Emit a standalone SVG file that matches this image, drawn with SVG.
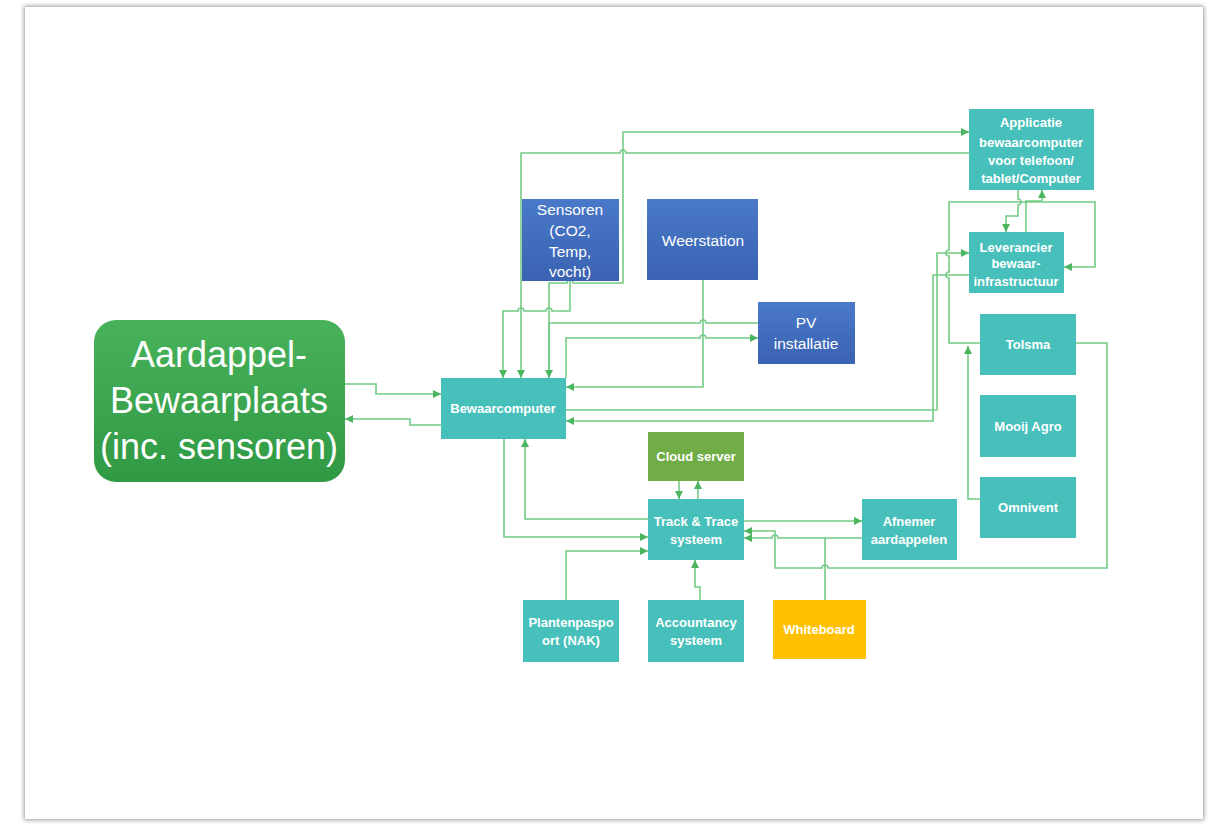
<svg xmlns="http://www.w3.org/2000/svg" width="1216" height="824" viewBox="0 0 1216 824">
<defs>
<style>
.tl{fill:#47bfbb}
.bl{fill:url(#gb)}
.t{font-family:"Liberation Sans",Arial,sans-serif;fill:#fff;text-anchor:middle;font-weight:bold;font-size:13px}
.tb{font-family:"Liberation Sans",Arial,sans-serif;fill:#fff;text-anchor:middle;font-size:15.5px}
.c{fill:none;stroke:#74cb86;stroke-width:1.6}
</style>
<linearGradient id="gb" x1="0" y1="0" x2="0" y2="1"><stop offset="0" stop-color="#4a79c9"/><stop offset="1" stop-color="#3a62b2"/></linearGradient>
<linearGradient id="gg" x1="0" y1="0" x2="0" y2="1"><stop offset="0" stop-color="#48b25b"/><stop offset="1" stop-color="#2f9944"/></linearGradient>
<marker id="a" viewBox="0 0 8 8" refX="8" refY="4" markerWidth="8" markerHeight="8" markerUnits="userSpaceOnUse" orient="auto"><path d="M0,0L8,4L0,8z" fill="#4cb560"/></marker>
<filter id="sh" x="-5%" y="-5%" width="110%" height="110%"><feGaussianBlur stdDeviation="2"/></filter>
</defs>
<rect width="1216" height="824" fill="#fff"/>
<rect x="24" y="6" width="1180" height="814" fill="#9a9a9a" filter="url(#sh)"/>
<rect x="25" y="7" width="1178" height="812" fill="#fff"/>

<g id="connectors" marker-end="url(#a)">
<path class="c" d="M344,384H376V394H441"/>
<path class="c" d="M441,425H410V419H345"/>
<path class="c" d="M570,281V311H552a3,3 0 0 0 -6,0H524a3,3 0 0 0 -6,0H503V378"/>
<path class="c" d="M969,153H626a3,3 0 0 0 -6,0H521V378"/>
<path class="c" d="M549,378V283H567a3,3 0 0 1 6,0H623V132H969"/>
<path class="c" d="M758,323H706a3,3 0 0 0 -6,0H549V378"/>
<path class="c" d="M566,378V338H700a3,3 0 0 1 6,0H758"/>
<path class="c" d="M703,280V387H566"/>
<path class="c" d="M566,410H937V253H969"/>
<path class="c" d="M969,275H933V421H566"/>
<path class="c" d="M980,343H949V278a3,3 0 0 1 0,-6V256a3,3 0 0 1 0,-6V202H1095V267H1064"/>
<path class="c" d="M1026,232V201H1042V190"/>
<path class="c" d="M1018,190V199a3,3 0 0 1 0,6V216H1006V232"/>
<path class="c" d="M980,499H968V346"/>
<path class="c" d="M1076,343H1107V568H828a3,3 0 0 0 -6,0H775V531H744"/>
<path class="c" d="M744,521H862"/>
<path class="c" d="M862,538H778a3,3 0 0 0 -6,0H744"/>
<path class="c" d="M825,600V538" marker-end="none"/>
<path class="c" d="M679,481V499"/>
<path class="c" d="M698,499V481"/>
<path class="c" d="M648,519H525V439"/>
<path class="c" d="M504,439V537H648"/>
<path class="c" d="M566,600V551H648"/>
<path class="c" d="M700,600V587H695V560"/>
</g>

<g id="aardappel">
<rect x="94" y="320" width="251" height="162" rx="22" fill="url(#gg)"/>
<text font-family="'Liberation Sans',Arial,sans-serif" font-size="36" fill="#fff" text-anchor="middle"><tspan x="219" y="367">Aardappel-</tspan><tspan x="219" y="413">Bewaarplaats</tspan><tspan x="219" y="459">(inc. sensoren)</tspan></text>
</g>
<g id="bewaarcomputer"><rect class="tl" x="441" y="378" width="125" height="61"/><text class="t" x="503" y="413">Bewaarcomputer</text></g>
<g id="sensoren"><rect class="bl" x="522" y="199" width="97" height="82"/><text class="tb"><tspan x="570" y="215">Sensoren</tspan><tspan x="570" y="236">(CO2,</tspan><tspan x="570" y="257">Temp,</tspan><tspan x="570" y="277">vocht)</tspan></text></g>
<g id="weerstation"><rect class="bl" x="647" y="199" width="111" height="81"/><text class="tb" x="703" y="246">Weerstation</text></g>
<g id="pv"><rect class="bl" x="758" y="302" width="97" height="62"/><text class="tb"><tspan x="806" y="328">PV</tspan><tspan x="806" y="349">installatie</tspan></text></g>
<g id="applicatie"><rect class="tl" x="969" y="109" width="125" height="81"/><text class="t" font-size="12.5"><tspan x="1031" y="127">Applicatie</tspan><tspan x="1031" y="147">bewaarcomputer</tspan><tspan x="1031" y="165">voor telefoon/</tspan><tspan x="1031" y="183">tablet/Computer</tspan></text></g>
<g id="leverancier"><rect class="tl" x="969" y="232" width="95" height="61"/><text class="t"><tspan x="1016" y="252">Leverancier</tspan><tspan x="1016" y="268">bewaar-</tspan><tspan x="1016" y="286">infrastructuur</tspan></text></g>
<g id="tolsma"><rect class="tl" x="980" y="314" width="96" height="61"/><text class="t" x="1028" y="349">Tolsma</text></g>
<g id="mooijagro"><rect class="tl" x="980" y="395" width="96" height="62"/><text class="t" x="1028" y="431">Mooij Agro</text></g>
<g id="omnivent"><rect class="tl" x="980" y="477" width="96" height="61"/><text class="t" x="1028" y="512">Omnivent</text></g>
<g id="cloudserver"><rect x="648" y="432" width="96" height="49" fill="#70ad47"/><text class="t" font-size="11" x="696" y="461">Cloud server</text></g>
<g id="tracktrace"><rect class="tl" x="648" y="499" width="96" height="61"/><text class="t"><tspan x="696" y="526">Track &amp; Trace</tspan><tspan x="696" y="544">systeem</tspan></text></g>
<g id="afnemer"><rect class="tl" x="862" y="499" width="95" height="61"/><text class="t"><tspan x="909" y="526">Afnemer</tspan><tspan x="909" y="544">aardappelen</tspan></text></g>
<g id="plantenpaspoort"><rect class="tl" x="523" y="600" width="96" height="62"/><text class="t"><tspan x="571" y="627">Plantenpaspo</tspan><tspan x="571" y="645">ort (NAK)</tspan></text></g>
<g id="accountancy"><rect class="tl" x="648" y="600" width="96" height="62"/><text class="t"><tspan x="696" y="627">Accountancy</tspan><tspan x="696" y="645">systeem</tspan></text></g>
<g id="whiteboard"><rect x="773" y="600" width="93" height="59" fill="#ffc000"/><text class="t" font-size="11.5" x="819" y="634">Whiteboard</text></g>
</svg>
